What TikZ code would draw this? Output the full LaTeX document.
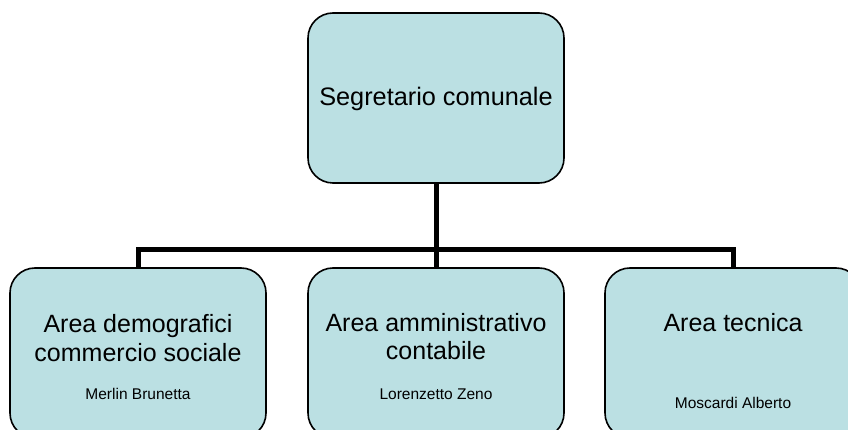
\documentclass[tikz,border=0pt]{standalone}
\usepackage{fontspec}
\setmainfont{Liberation Sans}
\definecolor{boxfill}{HTML}{BBE0E3}
\begin{document}
\begin{tikzpicture}[x=1pt,y=-1pt,
  box/.style={draw=black, line width=1.6pt, fill=boxfill, rounded corners=25pt,
    minimum width=256pt, minimum height=170pt, inner sep=0pt},
  conn/.style={draw=black, line width=5pt, line join=miter},
  big/.style={anchor=base, inner sep=0pt, font=\fontsize{25.3}{30}\selectfont},
  mid/.style={anchor=base, inner sep=0pt, font=\fontsize{25}{29}\selectfont},
  small/.style={anchor=base, inner sep=0pt, font=\fontsize{15.5}{17}\selectfont}]
\useasboundingbox (0,0) rectangle (848,430);
\clip (0,0) rectangle (848,430);
\fill[white] (0,0) rectangle (848,430);
\coordinate (hl) at (138,250);
\coordinate (hr) at (733,250);
\coordinate (hm) at (436,250);
\node[box] (top) at (436,98) {};
\node[box] (b1) at (138,353) {};
\node[box] (b2) at (436,353) {};
\node[box] (b3) at (733,353) {};
\draw[conn] (top.south) -- (hm);
\draw[conn] (b1.north) -- (hl) -- (hr) -- (b3.north);
\draw[conn] (hm) -- (b2.north);
\node[big] (t0) at (436,106) {Segretario comunale};
\node[mid] (t1a) at (138,332) {Area demografici};
\node[mid] (t1b) at (138,361) {commercio sociale};
\node[small] (t1c) at (138,399) {Merlin Brunetta};
\node[mid] (t2a) at (436,331) {Area amministrativo};
\node[mid] (t2b) at (436,359) {contabile};
\node[small] (t2c) at (436,399) {Lorenzetto Zeno};
\node[mid] (t3a) at (733,331) {Area tecnica};
\node[small] (t3c) at (733,408) {Moscardi Alberto};
\end{tikzpicture}
\end{document}
